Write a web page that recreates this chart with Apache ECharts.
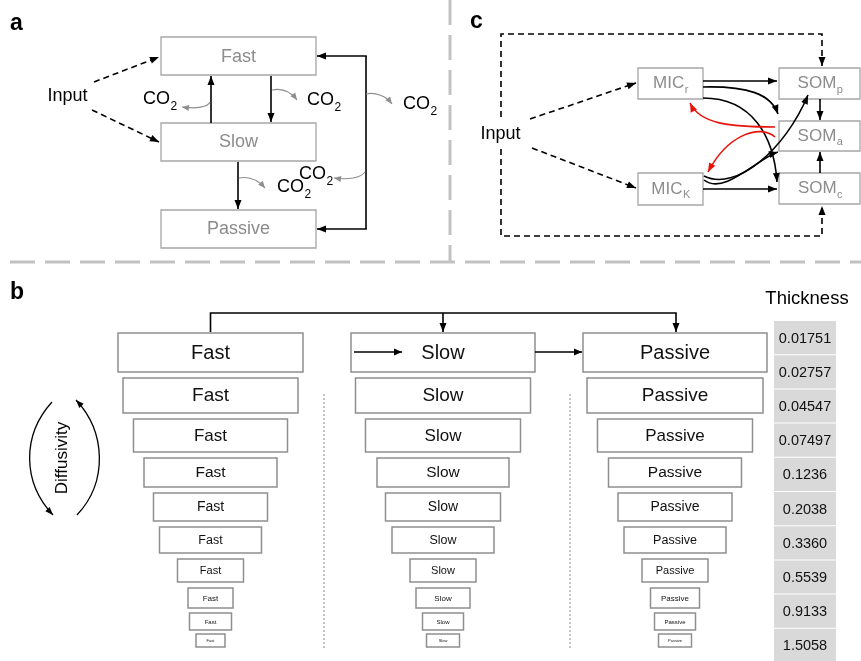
<!DOCTYPE html>
<html>
<head>
<meta charset="utf-8">
<script src="https://cdn.jsdelivr.net/npm/echarts@6/dist/echarts.min.js"></script>
<style>
  html, body { margin: 0; padding: 0; background: #fff; }
  #chart { width: 861px; height: 661px; }
</style>
</head>
<body>
<div id="chart"></div>
<script>
// ---- content ----
const pools = ['Fast', 'Slow', 'Passive'];
// soil layer thickness (m), from the surface down
const thicknessLabels = ['0.01751', '0.02757', '0.04547', '0.07497', '0.1236',
                         '0.2038', '0.3360', '0.5539', '0.9133', '1.5058'];
const thickness = thicknessLabels.map(Number);
const microbialPools = [['MIC', 'r'], ['MIC', 'K']];
const somPools = [['SOM', 'p'], ['SOM', 'a'], ['SOM', 'c']];

// ---- layout ----
const FONT = '"Liberation Sans", Arial, Helvetica, sans-serif';
const W = 861, H = 661;
const colCenter = [210.5, 443, 675];
const layerTop = [333, 378, 419, 458, 493, 527, 559, 588, 613, 634];
const layerBottom = [372, 413, 452, 487, 521, 553, 582, 608, 630, 647];
const layerWidth = [
  [185, 175, 154, 133, 114, 102, 66, 45, 42, 29],
  [184, 175, 155, 132, 115, 102, 66, 54, 41, 33],
  [184, 176, 155, 133, 114, 102, 66, 49, 41, 33]
];
const layerFont = [20, 19, 17, 15.5, 14, 12.5, 11, 8, 6, 4];
const cellX = 774, cellW = 62, cellTop = 321, cellStep = 34.2, cellH = 33.2;

// ---- drawing helpers ----
const measureCtx = document.createElement('canvas').getContext('2d');
function textWidth(s, size) {
  measureCtx.font = size + 'px ' + FONT;
  return measureCtx.measureText(s).width;
}
const els = [];
function head(tip, from, o) {
  const a = Math.atan2(tip[1] - from[1], tip[0] - from[0]);
  const L = o.hl || 9, Wd = (o.hw || 7) / 2;
  const bx = tip[0] - L * Math.cos(a), by = tip[1] - L * Math.sin(a);
  const px = -Math.sin(a) * Wd, py = Math.cos(a) * Wd;
  return { type: 'polygon', silent: true, z: 10,
    shape: { points: [tip, [bx + px, by + py], [bx - px, by - py]] },
    style: { fill: o.color || '#000', stroke: null } };
}
function seg(pts, o = {}) {
  els.push({ type: 'polyline', silent: true, z: 5, shape: { points: pts },
    style: { stroke: o.color || '#000', lineWidth: o.w || 1.6, lineDash: o.dash || null, fill: 'none' } });
  if (o.head) els.push(head(pts[pts.length - 1], pts[pts.length - 2], o));
}
function curve(p0, c1, c2, p1, o = {}) {
  els.push({ type: 'bezierCurve', silent: true, z: 5,
    shape: { x1: p0[0], y1: p0[1], cpx1: c1[0], cpy1: c1[1], cpx2: c2[0], cpy2: c2[1], x2: p1[0], y2: p1[1] },
    style: { stroke: o.color || '#000', lineWidth: o.w || 1.6, lineDash: o.dash || null, fill: 'none' } });
  if (o.head !== false) els.push(head(p1, c2, o));
}
function box(x, y, w, h, o = {}) {
  els.push({ type: 'rect', silent: true, z: 4, shape: { x: x, y: y, width: w, height: h },
    style: { fill: '#fff', stroke: o.color || '#a6a6a6', lineWidth: o.w || 1.3 } });
}
function txt(x, y, s, o = {}) {
  els.push({ type: 'text', silent: true, z: 12, x: x, y: y, rotation: o.rot || 0,
    style: { text: s, fontSize: o.size || 18, fontFamily: FONT, fontWeight: o.bold ? 'bold' : 'normal',
      fill: o.color || '#000', align: o.align || 'center', verticalAlign: o.va || 'middle' } });
}
function subLabel(x, y, main, sub, o = {}) {
  const size = o.size || 18, subSize = o.subSize || 12;
  const wm = textWidth(main, size), ws = textWidth(sub, subSize);
  const left = o.align === 'center' ? x - (wm + ws) / 2 : x;
  txt(left, y, main, { size: size, color: o.color, align: 'left' });
  txt(left + wm + 0.5, y + size * (o.drop || 0.42), sub, { size: subSize, color: o.color, align: 'left' });
}

// ---- panel separators ----
seg([[10, 262], [W, 262]], { color: '#c2c2c2', w: 3, dash: [25, 10] });
seg([[450, 0], [450, 262]], { color: '#c2c2c2', w: 3, dash: [25, 10] });

// ---- panel a: three-pool model ----
txt(10, 24, 'a', { size: 23, bold: true, align: 'left' });
const aGray = '#8c8c8c', aArrow = { color: '#8e8e8e', w: 1.2, hl: 7, hw: 6 };
box(161, 37, 155, 38); txt(238.5, 57, pools[0], { color: aGray });
box(161, 123, 155, 38); txt(238.5, 142, pools[1], { color: aGray });
box(161, 210, 155, 38); txt(238.5, 229, pools[2], { color: aGray });
txt(67.5, 96, 'Input');
seg([[94, 82], [159, 57]], { dash: [6, 4], head: true });
seg([[92, 110], [159, 142]], { dash: [6, 4], head: true });
seg([[211, 123], [211, 76]], { head: true });
seg([[271, 76], [271, 122]], { head: true });
seg([[238, 162], [238, 209]], { head: true });
seg([[366, 56], [366, 229]]);
seg([[366.8, 56], [317, 56]], { head: true });
seg([[366.8, 229], [317, 229]], { head: true });
curve([210, 102], [208, 107], [196, 109], [182, 107], aArrow);
curve([272, 90], [282, 88], [291, 92], [297, 100], aArrow);
curve([366, 94], [376, 92], [386, 96], [392, 104], aArrow);
curve([239, 178], [250, 176], [259, 181], [265, 188], aArrow);
curve([365, 172], [361, 178], [348, 180], [334, 178], aArrow);
subLabel(143, 99, 'CO', '2');
subLabel(307, 100, 'CO', '2');
subLabel(403, 104, 'CO', '2');
subLabel(277, 187, 'CO', '2');
subLabel(299, 174, 'CO', '2');

// ---- panel c: microbial model ----
txt(470, 22, 'c', { size: 23, bold: true, align: 'left' });
const dash = { dash: [6, 4], w: 1.6 };
seg([[501, 117], [501, 34], [822, 34], [822, 66]], Object.assign({ head: true }, dash));
seg([[501, 149], [501, 236], [822, 236], [822, 206]], Object.assign({ head: true }, dash));
txt(500.5, 134, 'Input');
seg([[530, 119], [636, 83]], Object.assign({ head: true }, dash));
seg([[532, 148], [636, 188]], Object.assign({ head: true }, dash));
const micY = [[68, 99], [173, 205]];
microbialPools.forEach((p, i) => {
  box(638, micY[i][0], 65, micY[i][1] - micY[i][0]);
  subLabel(670.5, (micY[i][0] + micY[i][1]) / 2, p[0], p[1], { size: 17, subSize: 11, color: aGray, align: 'center', drop: 0.38 });
});
const somY = [[68, 99], [121, 151], [173, 204]];
somPools.forEach((p, i) => {
  box(779, somY[i][0], 81, somY[i][1] - somY[i][0]);
  subLabel(820, (somY[i][0] + somY[i][1]) / 2, p[0], p[1], { size: 17, subSize: 11, color: aGray, align: 'center', drop: 0.38 });
});
seg([[703, 81], [777, 81]], { head: true });
seg([[703, 189], [777, 189]], { head: true });
curve([703, 87], [748, 86], [771, 94], [778, 114], {});
curve([703, 98], [752, 98], [774, 136], [777, 182], {});
curve([704, 176], [736, 192], [785, 150], [808, 95], {});
curve([704, 180], [724, 196], [758, 158], [778, 152], {});
curve([775, 127], [730, 127], [700, 124], [690, 103], { color: '#e8140c' });
curve([775, 137], [760, 124], [728, 134], [708, 172], { color: '#e8140c' });
seg([[820, 99], [820, 120]], { head: true });
seg([[820, 173], [820, 152]], { head: true });

// ---- panel b: vertically resolved pools ----
txt(10, 293, 'b', { size: 23, bold: true, align: 'left' });
seg([[colCenter[0], 332], [colCenter[0], 313], [676, 313], [676, 332]], { head: true });
seg([[443, 313], [443, 332]], { head: true });
seg([[354, 352], [402, 352]], { head: true, hl: 8 });
seg([[535, 352], [582, 352]], { head: true, hl: 8 });
seg([[324, 394], [324, 648]], { color: '#8a8a8a', w: 1, dash: [2, 2] });
seg([[570, 394], [570, 648]], { color: '#8a8a8a', w: 1, dash: [2, 2] });
txt(62, 458, 'Diffusivity', { size: 17, rot: Math.PI / 2 });
curve([52, 402], [22, 435], [22, 482], [53, 515], { w: 1.3, hl: 8, hw: 6 });
curve([77, 515], [108, 482], [106, 432], [76, 400], { w: 1.3, hl: 8, hw: 6 });
txt(807, 299, 'Thickness', { size: 18.5 });

// ---- series data ----
const layerData = [];
pools.forEach((p, c) => thickness.forEach((t, i) => layerData.push([c, i, t])));
const cellData = thickness.map((t, i) => [i, t]);

const chart = echarts.init(document.getElementById('chart'), null, { renderer: 'canvas' });
chart.setOption({
  backgroundColor: '#fff',
  animation: false,
  grid: { left: 0, right: 0, top: 0, bottom: 0 },
  xAxis: { type: 'value', min: 0, max: W, show: false },
  yAxis: { type: 'value', min: 0, max: H, inverse: true, show: false },
  graphic: { elements: els },
  series: [
    {
      name: 'layers', type: 'custom', coordinateSystem: 'cartesian2d', data: layerData, z: 3,
      renderItem: function (params, api) {
        const c = api.value(0), i = api.value(1);
        const w = layerWidth[c][i];
        const p0 = api.coord([colCenter[c] - w / 2, layerTop[i]]);
        const p1 = api.coord([colCenter[c] + w / 2, layerBottom[i]]);
        return { type: 'group', children: [
          { type: 'rect', shape: { x: p0[0], y: p0[1], width: p1[0] - p0[0], height: p1[1] - p0[1] },
            style: { fill: '#fff', stroke: '#8f8f8f', lineWidth: 1.5 } },
          { type: 'text', x: (p0[0] + p1[0]) / 2, y: (p0[1] + p1[1]) / 2 + 0.5,
            style: { text: pools[c], fontSize: layerFont[i], fontFamily: FONT, fill: '#111',
              align: 'center', verticalAlign: 'middle' } }
        ] };
      }
    },
    {
      name: 'thickness', type: 'custom', coordinateSystem: 'cartesian2d', data: cellData, z: 3,
      renderItem: function (params, api) {
        const i = api.value(0);
        const top = cellTop + i * cellStep;
        const p0 = api.coord([cellX, top]);
        const p1 = api.coord([cellX + cellW, top + cellH]);
        return { type: 'group', children: [
          { type: 'rect', shape: { x: p0[0], y: p0[1], width: p1[0] - p0[0], height: p1[1] - p0[1] },
            style: { fill: '#d9d9d9' } },
          { type: 'text', x: (p0[0] + p1[0]) / 2, y: (p0[1] + p1[1]) / 2 + 1,
            style: { text: thicknessLabels[i], fontSize: 14.5, fontFamily: FONT, fill: '#111',
              align: 'center', verticalAlign: 'middle' } }
        ] };
      }
    }
  ]
});
</script>
</body>
</html>
